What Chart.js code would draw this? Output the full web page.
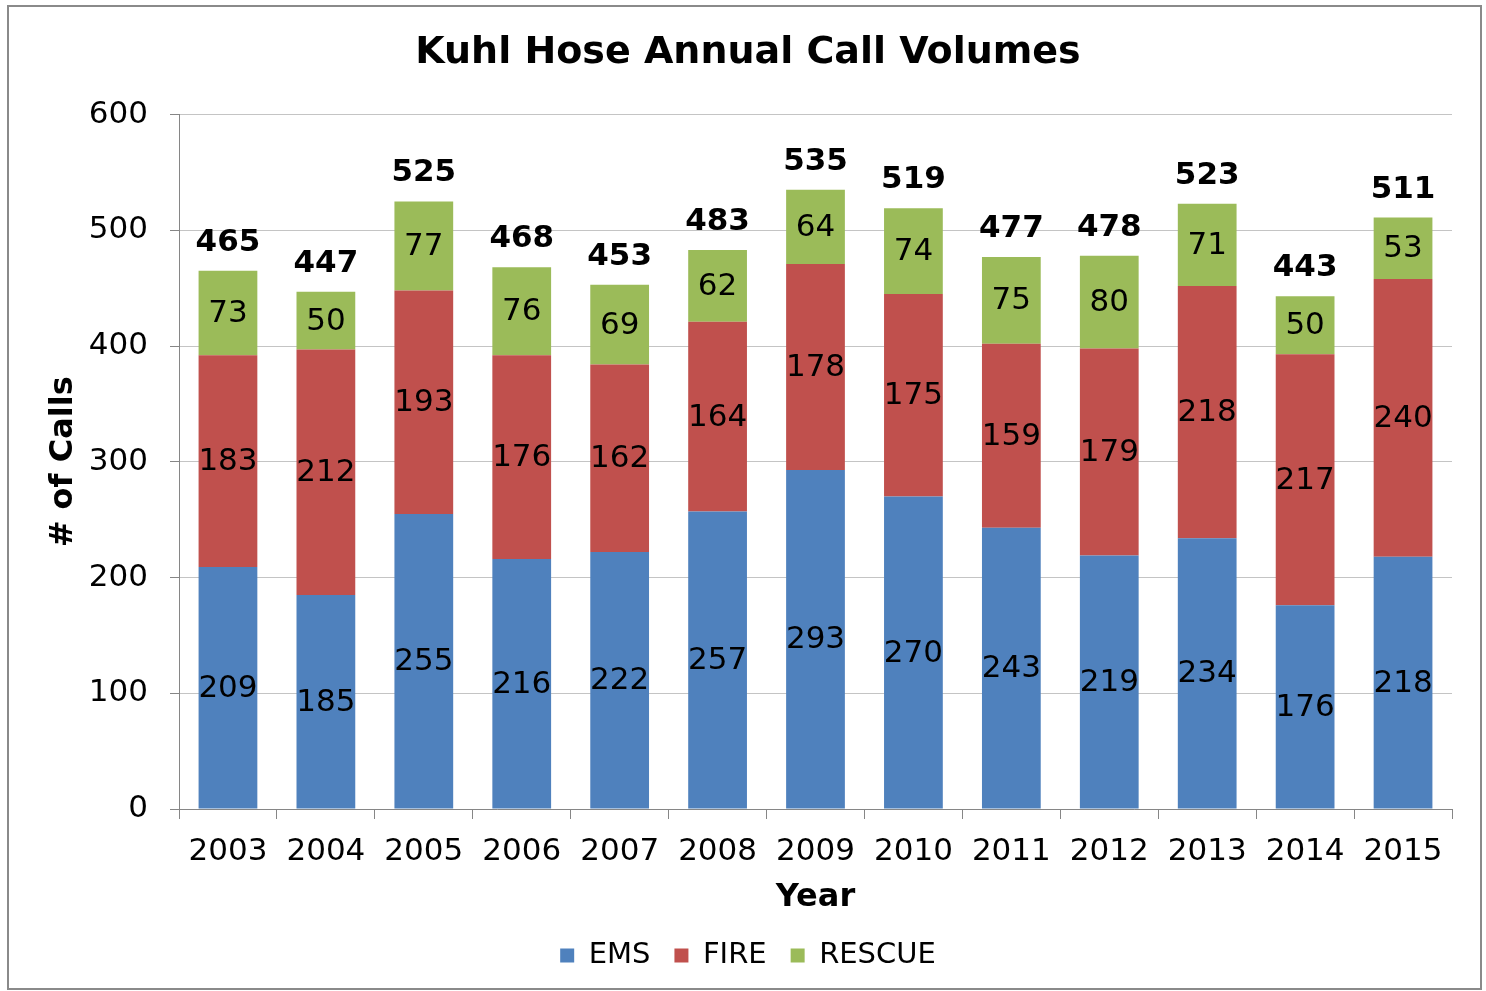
<!DOCTYPE html>
<html>
<head>
<meta charset="utf-8">
<script src="https://cdn.jsdelivr.net/npm/chart.js@4"></script>
<style>
  body { margin: 0; background: #fff; }
  #wrap { width: 1486px; height: 991px; }
</style>
</head>
<body>
<div id="wrap"><canvas id="myChart"></canvas></div>
<script>
const years = ['2003','2004','2005','2006','2007','2008','2009','2010','2011','2012','2013','2014','2015'];
const ems = [209,185,255,216,222,257,293,270,243,219,234,176,218];
const fire = [183,212,193,176,162,164,178,175,159,179,218,217,240];
const rescue = [73,50,77,76,69,62,64,74,75,80,71,50,53];
const totals = [465,447,525,468,453,483,535,519,477,478,523,443,511];

const FONT = '"DejaVu Sans", Verdana, sans-serif';
Chart.defaults.font.family = FONT;
Chart.defaults.color = '#000';

// frame round the whole chart
const frame = {
  id: 'frame',
  beforeDraw(chart) {
    const c = chart.ctx;
    c.save();
    c.strokeStyle = '#8a8a8a';
    c.lineWidth = 2;
    c.strokeRect(8, 6, 1473, 983);
    c.restore();
  }
};

// segment values and totals
const valueLabels = {
  id: 'valueLabels',
  afterDatasetsDraw(chart) {
    const c = chart.ctx;
    c.save();
    c.textAlign = 'center';
    c.fillStyle = '#000';
    chart.data.datasets.forEach((ds, i) => {
      const meta = chart.getDatasetMeta(i);
      c.font = '31px ' + FONT;
      c.textBaseline = 'middle';
      meta.data.forEach((bar, j) => {
        c.fillText(ds.data[j], bar.x, (bar.y + bar.base) / 2 + 1);
      });
    });
    const top = chart.getDatasetMeta(chart.data.datasets.length - 1);
    c.font = 'bold 31px ' + FONT;
    c.textBaseline = 'alphabetic';
    top.data.forEach((bar, j) => {
      c.fillText(totals[j], bar.x, bar.y - 20);
    });
    c.restore();
  }
};

new Chart(document.getElementById('myChart'), {
  type: 'bar',
  data: {
    labels: years,
    datasets: [
      { label: 'EMS', data: ems, backgroundColor: '#4F81BD' },
      { label: 'FIRE', data: fire, backgroundColor: '#C0504D' },
      { label: 'RESCUE', data: rescue, backgroundColor: '#9BBB59' }
    ]
  },
  options: {
    responsive: true,
    maintainAspectRatio: false,
    animation: false,
    layout: { padding: { left: 44, right: 34, top: 20, bottom: 11 } },
    datasets: { bar: { categoryPercentage: 1, barPercentage: 0.6 } },
    plugins: {
      title: {
        display: true,
        text: 'Kuhl Hose Annual Call Volumes',
        font: { size: 38, weight: 'bold' },
        padding: { top: 10, bottom: 39 }
      },
      legend: {
        position: 'bottom',
        labels: { boxWidth: 14, boxHeight: 14, padding: 24, font: { size: 29 } }
      },
      tooltip: { enabled: false }
    },
    scales: {
      x: {
        stacked: true,
        afterFit(scale) { scale.height = 108; },
        grid: { drawOnChartArea: false, tickLength: 10, color: '#868686' },
        border: { color: '#868686' },
        ticks: { padding: 14, font: { size: 31 } },
        title: { display: true, text: 'Year', font: { size: 32, weight: 'bold' }, padding: { top: 0, bottom: 0 } }
      },
      y: {
        stacked: true,
        min: 0,
        max: 600,
        afterFit(scale) { scale.width = 135; },
        grid: { color: '#c4c4c4', tickLength: 9, tickColor: '#868686' },
        border: { color: '#868686' },
        ticks: { stepSize: 100, padding: 22, font: { size: 31 } },
        title: { display: true, text: '# of Calls', font: { size: 32, weight: 'bold' }, padding: { top: 0, bottom: 0 } }
      }
    }
  },
  plugins: [frame, valueLabels]
});
</script>
</body>
</html>
